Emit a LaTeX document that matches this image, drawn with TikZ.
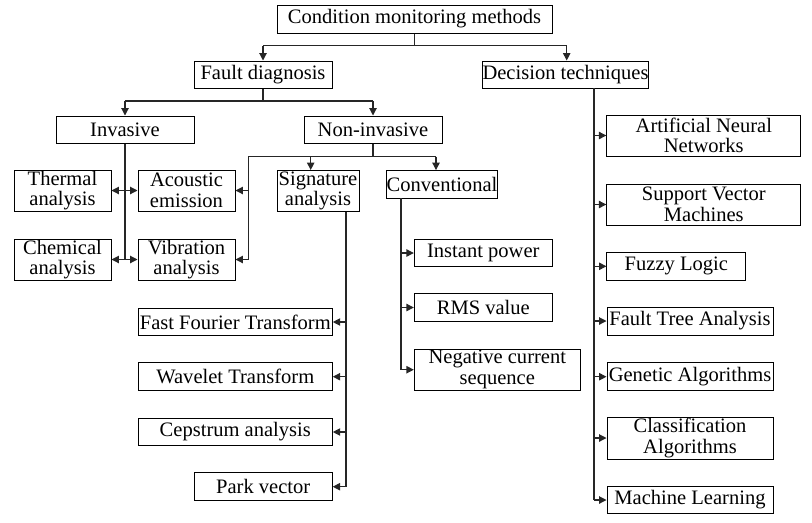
\documentclass[tikz,border=0pt]{standalone}
\usepackage{fontspec}
\setmainfont{Liberation Serif}
\usetikzlibrary{arrows.meta}
\begin{document}
\begin{tikzpicture}[x=0.75pt,y=-0.75pt,
  bx/.style 2 args={draw=black, line width=0.75pt, inner sep=0pt, align=center,
    minimum width=#1*0.75pt, minimum height=#2*0.75pt,
    font=\fontsize{15.4}{15.5}\selectfont},
  ln/.style={draw=black!85, line width=0.8pt},
  ar/.style={ln, -{Triangle[length=5.5pt,width=5.5pt]}},
  dar/.style={ln, {Triangle[length=5.5pt,width=5.5pt]}-{Triangle[length=5.5pt,width=5.5pt]}}]
\useasboundingbox (0,0) rectangle (812,522);
% nodes
\node[bx={275}{28}] (top) at (414.5,19) {Condition monitoring methods};
\node[bx={138}{27}] (fd) at (263,74.5) {Fault diagnosis};
\node[bx={165}{27}] (dt) at (565.5,74.5) {Decision techniques};
\node[bx={138}{27}] (inv) at (125,129.5) {Invasive};
\node[bx={138}{27}] (ninv) at (373,129.5) {Non-invasive};
\node[bx={97}{41}] (thermal) at (62.5,190.5) {Thermal\\analysis};
\node[bx={97}{41}] (acoustic) at (186.5,190.5) {Acoustic\\emission};
\node[bx={97}{41}] (chem) at (62.5,259.5) {Chemical\\analysis};
\node[bx={97}{41}] (vib) at (186.5,259.5) {Vibration\\analysis};
\node[bx={82}{41}] (sig) at (318,191) {Signature\\analysis};
\node[bx={110}{27.5}] (conv) at (442,184.3) {Conventional};
\node[bx={138}{27.5}] (inst) at (483.3,253) {Instant power};
\node[bx={138}{28}] (rms) at (483.3,307.5) {RMS value};
\node[bx={166}{41}] (neg) at (497.3,369.7) {Negative current\\sequence};
\node[bx={194}{27.5}] (fft) at (235.3,322) {Fast Fourier Transform};
\node[bx={194}{27.5}] (wav) at (235.3,376.7) {Wavelet Transform};
\node[bx={194}{27.5}] (cep) at (235.3,432) {Cepstrum analysis};
\node[bx={138}{28}] (park) at (263.2,486.7) {Park vector};
\node[bx={194}{41}] (ann) at (703.8,135.5) {Artificial Neural\\Networks};
\node[bx={194}{41}] (svm) at (703.8,204.5) {Support Vector\\Machines};
\node[bx={138.7}{27.5}] (fuzzy) at (676.3,266.3) {Fuzzy Logic};
\node[bx={166}{28}] (fta) at (690,321) {Fault Tree Analysis};
\node[bx={166}{28}] (gen) at (690,376.7) {Genetic Algorithms};
\node[bx={166}{42}] (cls) at (690,438) {Classification\\Algorithms};
\node[bx={166}{27}] (ml) at (690,500) {Machine Learning};
% junction coordinates
\coordinate (j0) at (414.5,45.7);
\coordinate (j0l) at (263,45.7);
\coordinate (j0r) at (566.7,45.7);
\coordinate (j1) at (263,101);
\coordinate (j1l) at (125,101);
\coordinate (j1r) at (373,101);
\coordinate (ji) at (125,259.5);
\coordinate (jn) at (373,156.7);
\coordinate (n1) at (248.3,156.7);
\coordinate (n2) at (436,156.7);
\coordinate (n3) at (310.7,156.7);
\coordinate (s0) at (346,211.5);
\coordinate (s1) at (346,486.7);
\coordinate (c0) at (401,198);
\coordinate (c1) at (401,369.7);
\coordinate (d0) at (594,88);
\coordinate (d1) at (594,500);
% connectors
\draw[ln] (top) -- (j0);
\draw[ln] (j0l) -- (j0r);
\draw[ar] (j0l) -- (fd);
\draw[ar] (j0r) -- (j0r |- dt.north);
\draw[ln] (fd) -- (j1);
\draw[ln] (j1l) -- (j1r);
\draw[ar] (j1l) -- (inv);
\draw[ar] (j1r) -- (ninv);
\draw[ln] (inv) -- (ji);
\draw[dar] (thermal) -- (acoustic);
\draw[dar] (chem) -- (vib);
\draw[ln] (ninv) -- (jn);
\draw[ln] (n1) -- (n2);
\draw[ar] (n3) -- (n3 |- sig.north);
\draw[ar] (n2) -- (n2 |- conv.north);
\draw[ln] (n1) -- (n1 |- vib);
\draw[ar] (n1 |- acoustic) -- (acoustic);
\draw[ar] (n1 |- vib) -- (vib);
\draw[ln] (s0) -- (s1);
\draw[ar] (s0 |- fft) -- (fft);
\draw[ar] (s0 |- wav) -- (wav);
\draw[ar] (s0 |- cep) -- (cep);
\draw[ar] (s1) -- (park);
\draw[ln] (c0) -- (c1);
\draw[ar] (c0 |- inst) -- (inst);
\draw[ar] (c0 |- rms) -- (rms);
\draw[ar] (c1) -- (neg);
\draw[ln] (d0) -- (d1);
\draw[ar] (d0 |- ann) -- (ann);
\draw[ar] (d0 |- svm) -- (svm);
\draw[ar] (d0 |- fuzzy) -- (fuzzy);
\draw[ar] (d0 |- fta) -- (fta);
\draw[ar] (d0 |- gen) -- (gen);
\draw[ar] (d0 |- cls) -- (cls);
\draw[ar] (d1) -- (ml);
\end{tikzpicture}
\end{document}
